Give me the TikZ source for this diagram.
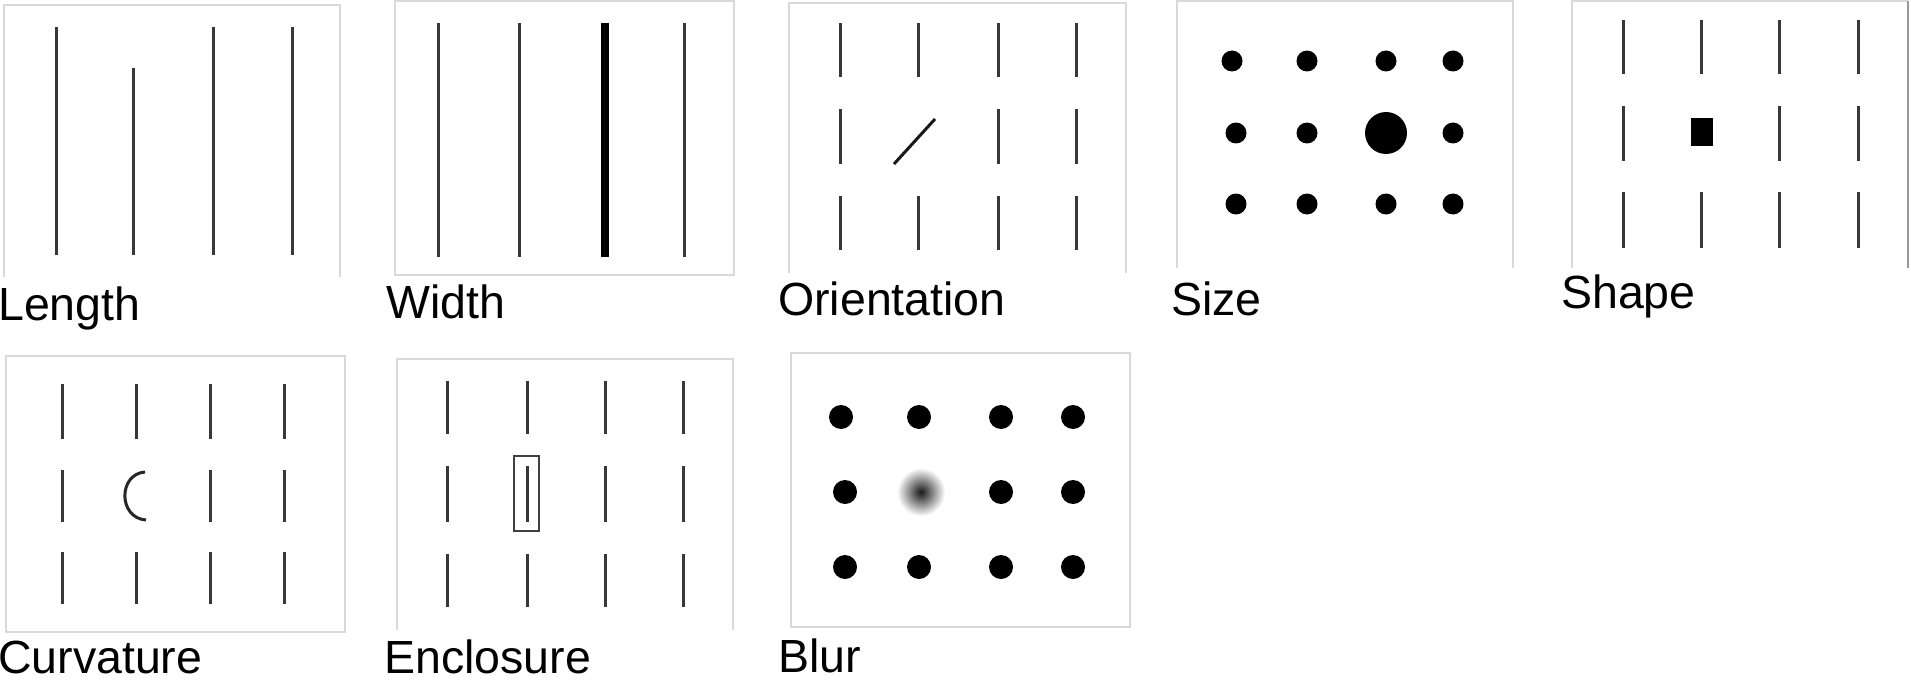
\documentclass[tikz,border=0pt]{standalone}
\usepackage{fontspec}
\setmainfont{Liberation Sans}
\begin{document}
\begin{tikzpicture}[x=1pt,y=-1pt,
  frame/.style={draw=black!15, line width=1.6pt},
  bar/.style={draw=black!78, line width=3pt},
  dotfill/.style={fill=black},
  lbl/.style={anchor=base west, inner sep=0pt, font=\fontsize{46.5}{50}\selectfont}]
\fill[white] (0,0) rectangle (1911,682);
\useasboundingbox (0,0) rectangle (1911,682);

% ---- Length ----
\draw[frame] (4,277) -- (4,5) -- (340,5) -- (340,277);
\foreach \x/\t in {56/27,133/68,213/27,292/27} \draw[bar] (\x,\t) -- (\x,255);
\node[lbl] (lLength) at (-2,320) {Length};

% ---- Width ----
\draw[frame] (395,1) rectangle (734,275);
\foreach \x in {438,519,684} \draw[bar] (\x,23) -- (\x,257);
\draw[bar, draw=black, line width=8pt] (605,23) -- (605,257);
\node[lbl] (lWidth) at (386,318) {Width};

% ---- Orientation ----
\draw[frame] (789,273) -- (789,3) -- (1126,3) -- (1126,273);
\foreach \x in {840,918,998,1076} {
  \draw[bar] (\x,23) -- (\x,77);
  \draw[bar] (\x,196) -- (\x,250);
}
\foreach \x in {840,998,1076} \draw[bar] (\x,109) -- (\x,164);
\draw[bar, draw=black!90] (894,164) -- (935,119);
\node[lbl] (lOrient) at (778,315) {Orientation};

% ---- Size ----
\draw[frame] (1177,268) -- (1177,1) -- (1513,1) -- (1513,268);
\foreach \x in {1232,1307,1386,1453} \fill[dotfill] (\x,61) circle (10.5);
\foreach \x in {1236,1307,1453} \fill[dotfill] (\x,133) circle (10.5);
\fill[dotfill] (1386,133) circle (21);
\foreach \x in {1236,1307,1386,1453} \fill[dotfill] (\x,204) circle (10.5);
\node[lbl] (lSize) at (1171,315) {Size};

% ---- Shape ----
\draw[frame] (1572,268) -- (1572,1) -- (1908,1);
\draw[draw=black!40, line width=1.6pt] (1908,1) -- (1908,268);
\foreach \x in {1623,1701,1779,1858} {
  \draw[bar] (\x,20) -- (\x,74);
  \draw[bar] (\x,192) -- (\x,248);
}
\foreach \x in {1623,1779,1858} \draw[bar] (\x,106) -- (\x,161);
\fill[black] (1691,118) rectangle (1713,146);
\node[lbl] (lShape) at (1561,308) {Shape};

% ---- Curvature ----
\draw[frame] (6,356) rectangle (345,632);
\foreach \x in {62,136,210,284} {
  \draw[bar] (\x,384) -- (\x,439);
  \draw[bar] (\x,552) -- (\x,604);
}
\foreach \x in {62,210,284} \draw[bar] (\x,470) -- (\x,522);
\draw[bar, draw=black!85] (145,472) .. controls (118,474) and (118,518) .. (146,520);
\node[lbl] (lCurv) at (-2,673) {Curvature};

% ---- Enclosure ----
\draw[frame] (397,630) -- (397,359) -- (733,359) -- (733,630);
\foreach \x in {447,527,605,683} {
  \draw[bar] (\x,381) -- (\x,434);
  \draw[bar] (\x,466) -- (\x,522);
  \draw[bar] (\x,554) -- (\x,607);
}
\draw[draw=black!75, line width=1.6pt] (514,456) rectangle (539,531);
\node[lbl] (lEncl) at (384,673) {Enclosure};

% ---- Blur ----
\draw[frame] (791,353) rectangle (1130,627);
\foreach \x in {841,919,1001,1073} \fill[dotfill] (\x,417) circle (12);
\foreach \x in {845,1001,1073} \fill[dotfill] (\x,492) circle (12);
\foreach \x in {845,919,1001,1073} \fill[dotfill] (\x,567) circle (12);
\shade[inner color=black!90, outer color=white] (921,492) circle (24);
\node[lbl] (lBlur) at (778,672) {Blur};
\end{tikzpicture}
\end{document}
